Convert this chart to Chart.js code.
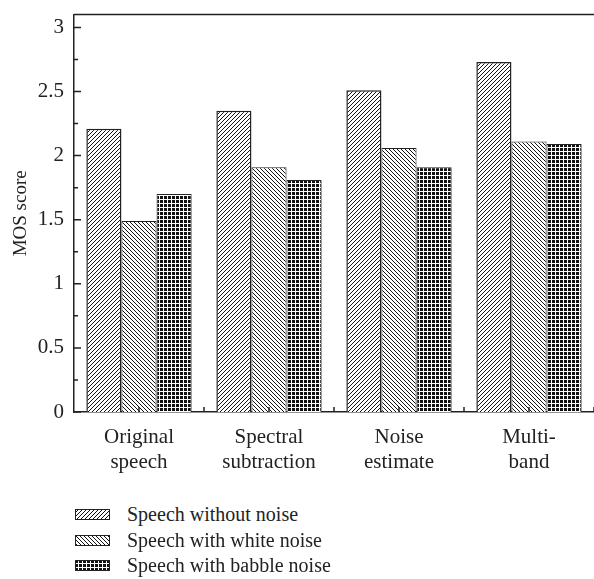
<!DOCTYPE html>
<html lang="en">
<head>
  <meta charset="UTF-8">
  <title>MOS score chart</title>
  <script src="https://cdn.jsdelivr.net/npm/chart.js@4.4.0/dist/chart.umd.min.js"></script>
  <style>
    body { margin: 0; background: #fff; font-family: 'Liberation Serif', 'DejaVu Serif', serif; }
    #wrap { position: relative; width: 594px; height: 579px; }
    #chartBox { position: absolute; left: 0; top: 0; width: 594px; height: 475px; }
    .leg { position: absolute; left: 75px; display: flex; align-items: center; font-size: 20px; color: #222; }
    .leg canvas { width: 35px; height: 11px; margin-right: 17px; }
  </style>
</head>
<body>
  <div id="wrap">
    <div id="chartBox"><canvas id="chart"></canvas></div>
    <div id="legend"></div>
  </div>
  <script>
    const categories = [['Original', 'speech'], ['Spectral', 'subtraction'], ['Noise', 'estimate'], ['Multi-', 'band']];
    const seriesNames = ['Speech without noise', 'Speech with white noise', 'Speech with babble noise'];
    const withoutNoise = [2.21, 2.35, 2.51, 2.73];
    const whiteNoise = [1.49, 1.91, 2.06, 2.11];
    const babbleNoise = [1.70, 1.81, 1.91, 2.09];
    const yTicks = [0, 0.5, 1, 1.5, 2, 2.5, 3];

    // hatch fills
    function hatch(dir) {
      const s = 4;
      const c = document.createElement('canvas');
      c.width = s; c.height = s;
      const g = c.getContext('2d');
      g.fillStyle = '#fff';
      g.fillRect(0, 0, s, s);
      g.strokeStyle = '#111';
      g.lineWidth = 1;
      g.beginPath();
      if (dir === '/') {
        g.moveTo(-1, s + 1); g.lineTo(s + 1, -1);
        g.moveTo(-1, 1); g.lineTo(1, -1);
        g.moveTo(s - 1, s + 1); g.lineTo(s + 1, s - 1);
      } else {
        g.moveTo(-1, -1); g.lineTo(s + 1, s + 1);
        g.moveTo(s - 1, -1); g.lineTo(s + 1, 1);
        g.moveTo(-1, s - 1); g.lineTo(1, s + 1);
      }
      g.stroke();
      return g.createPattern(c, 'repeat');
    }
    function grid() {
      const c = document.createElement('canvas');
      c.width = 4; c.height = 4;
      const g = c.getContext('2d');
      g.fillStyle = '#fff';
      g.fillRect(0, 0, 4, 4);
      g.fillStyle = '#111';
      g.fillRect(0, 0, 3, 3);
      return g.createPattern(c, 'repeat');
    }
    const fills = [hatch('/'), hatch('\\'), grid()];

    const frame = {
      id: 'frame',
      afterDatasetsDraw(chart) {
        const { ctx, chartArea: a, scales: { x, y } } = chart;
        ctx.save();
        ctx.strokeStyle = '#222';
        ctx.lineWidth = 1.5;
        ctx.beginPath();
        ctx.moveTo(a.left, a.top); ctx.lineTo(a.right, a.top);
        yTicks.forEach((v, i) => {
          const py = y.getPixelForValue(v);
          ctx.moveTo(a.left, py); ctx.lineTo(a.left + 7, py);
          if (i < yTicks.length - 1) {
            const pm = y.getPixelForValue(v + 0.25);
            ctx.moveTo(a.left, pm); ctx.lineTo(a.left + 4, pm);
          }
        });
        categories.forEach((c, i) => {
          const px = x.getPixelForValue(i);
          const pb = x.getPixelForValue(i + 0.5);
          ctx.moveTo(px, a.bottom); ctx.lineTo(px, a.bottom - 5);
          ctx.moveTo(pb, a.bottom); ctx.lineTo(pb, a.bottom - 5);
        });
        ctx.stroke();
        ctx.restore();
      }
    };

    const family = "'Liberation Serif', 'DejaVu Serif', serif";
    const font = { family: family, size: 21 };

    new Chart(document.getElementById('chart'), {
      type: 'bar',
      data: {
        labels: categories,
        datasets: [withoutNoise, whiteNoise, babbleNoise].map((d, i) => ({
          label: seriesNames[i],
          data: d,
          backgroundColor: fills[i],
          borderColor: '#222',
          borderWidth: i === 0 ? 1.5 : 1,
          categoryPercentage: 0.81,
          barPercentage: 1
        }))
      },
      options: {
        responsive: true,
        maintainAspectRatio: false,
        animation: false,
        layout: { padding: { top: 5, right: 0, left: 0, bottom: 0 } },
        plugins: { legend: { display: false }, tooltip: { enabled: false } },
        scales: {
          x: {
            grid: { display: false },
            border: { display: true, color: '#222', width: 1.5 },
            ticks: { color: '#222', font: font, padding: 5, maxRotation: 0 },
            afterFit(s) { s.height = 63; }
          },
          y: {
            min: 0,
            max: 3.1,
            grid: { display: false },
            border: { display: true, color: '#222', width: 1.5 },
            afterBuildTicks(s) { s.ticks = yTicks.map(v => ({ value: v })); },
            ticks: { color: '#222', font: font, padding: 2, callback: v => String(v) },
            title: { display: true, text: 'MOS score', color: '#222', font: { family: family, size: 19 }, padding: { top: 10, bottom: 0 } },
            afterFit(s) { s.width = 74; }
          }
        }
      },
      plugins: [frame]
    });

    // legend
    const legend = document.getElementById('legend');
    const rowTops = [503, 529, 554];
    seriesNames.forEach((name, i) => {
      const row = document.createElement('div');
      row.className = 'leg';
      row.style.top = rowTops[i] + 'px';
      const c = document.createElement('canvas');
      c.width = 35; c.height = 11;
      const g = c.getContext('2d');
      g.fillStyle = fills[i];
      g.fillRect(0, 0, 35, 11);
      g.strokeStyle = '#222';
      g.lineWidth = 1;
      g.strokeRect(0.5, 0.5, 34, 10);
      row.appendChild(c);
      const t = document.createElement('span');
      t.textContent = name;
      row.appendChild(t);
      legend.appendChild(row);
    });
  </script>
</body>
</html>
